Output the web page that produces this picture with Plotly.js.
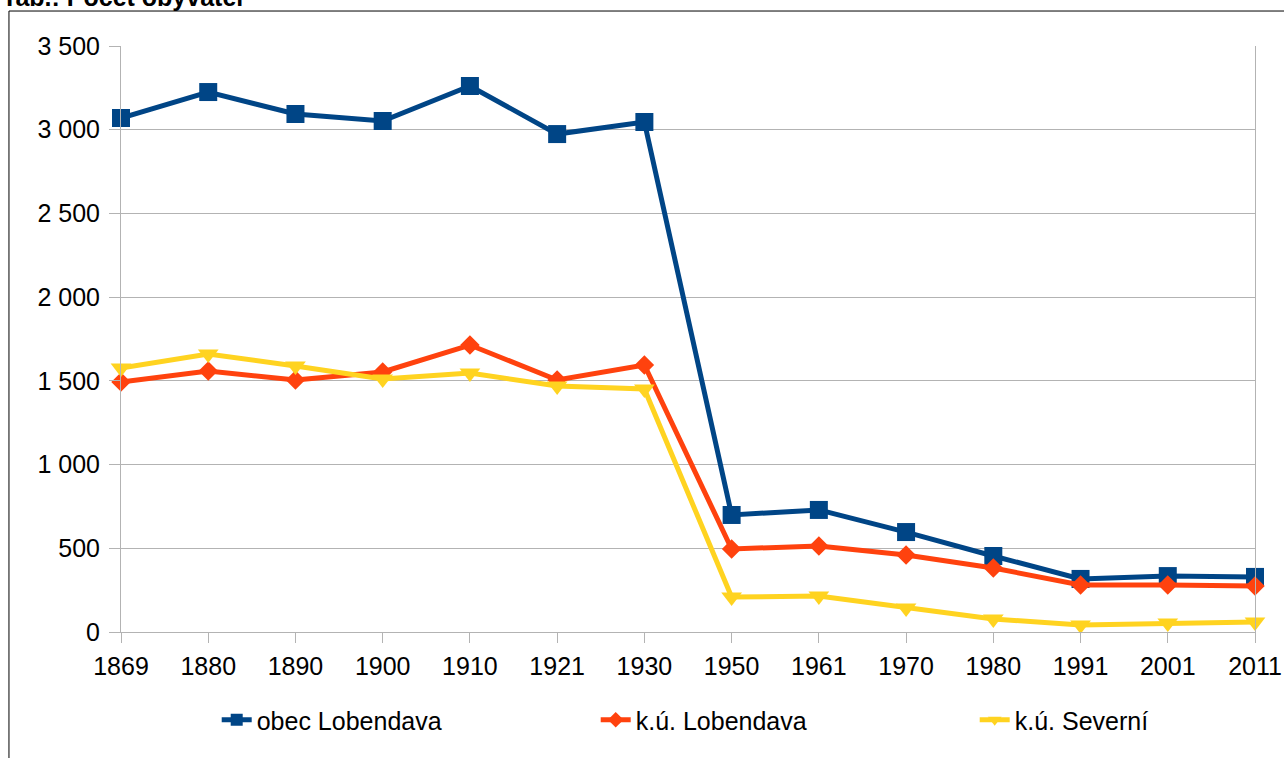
<!DOCTYPE html>
<html>
<head>
<meta charset="utf-8">
<script src="https://cdn.plot.ly/plotly-3.0.1.min.js"></script>
<style>
html,body{margin:0;padding:0;background:#fff;}
#chart{width:1284px;height:758px;}
</style>
</head>
<body>
<div id="chart"></div>
<script>
const years = ["1869","1880","1890","1900","1910","1921","1930","1950","1961","1970","1980","1991","2001","2011"];
const obecLobendava = [3070,3225,3094,3052,3261,2974,3046,699,729,597,454,317,334,329];
const kuLobendava = [1493,1559,1505,1553,1714,1505,1595,496,514,460,382,281,281,275];
const kuSeverni = [1577,1660,1589,1511,1547,1469,1451,209,215,143,78,42,54,60];
const seriesNames = ["obec Lobendava","k.ú. Lobendava","k.ú. Severní"];
const yTicks = [0,500,1000,1500,2000,2500,3000,3500];
const chartTitle = "Tab.: Počet obyvatel";

const FAM = "Liberation Sans, Arial, sans-serif";
const font = {family:FAM, size:25, color:"#000"};
const traces = [
  {x:years, y:obecLobendava, name:seriesNames[0], type:"scatter", mode:"lines+markers", cliponaxis:false,
   line:{color:"#004586", width:5}, marker:{symbol:"square", size:18, color:"#004586"}},
  {x:years, y:kuLobendava, name:seriesNames[1], type:"scatter", mode:"lines+markers", cliponaxis:false,
   line:{color:"#ff420e", width:5}, marker:{symbol:"diamond", size:15, color:"#ff420e"}},
  {x:years, y:kuSeverni, name:seriesNames[2], type:"scatter", mode:"lines+markers", cliponaxis:false,
   line:{color:"#ffd320", width:5}, marker:{symbol:"triangle-down", size:18, color:"#ffd320"}}
];

const layout = {
  width:1284, height:758,
  margin:{l:121, r:29, t:46, b:126, pad:0, autoexpand:false},
  paper_bgcolor:"#fff", plot_bgcolor:"#fff",
  font:font,
  separators:", ",
  showlegend:true,
  xaxis:{type:"category", range:[0,13], showgrid:false, zeroline:false,
         showline:true, linecolor:"#b3b3b3", linewidth:1,
         ticks:"outside", ticklen:10, tickcolor:"#b3b3b3", tickwidth:1,
         tickfont:font, ticklabelstandoff:2, fixedrange:true, automargin:false},
  yaxis:{range:[0,3500], tickvals:yTicks, tickformat:",d", showgrid:true, gridcolor:"#b3b3b3", gridwidth:1,
         zeroline:false, showline:true, mirror:true, linecolor:"#b3b3b3", linewidth:1,
         ticks:"outside", ticklen:11, tickcolor:"#b3b3b3", tickwidth:1,
         tickfont:font, ticklabelstandoff:4, fixedrange:true, automargin:false},
  legend:{orientation:"h", x:0.0844, xanchor:"left", yref:"container", y:0.0501, yanchor:"middle",
          entrywidth:334, entrywidthmode:"pixels", font:font, bgcolor:"rgba(0,0,0,0)", itemsizing:"constant"},
  annotations:[
    {text:"<b>"+chartTitle+"</b>", xref:"paper", yref:"paper", x:-0.1067, y:1.0836,
     xanchor:"left", yanchor:"middle", showarrow:false, font:{family:FAM, size:25, color:"#000"}}
  ],
  shapes:[
    {type:"path", xref:"paper", yref:"paper",
     path:"M -0.0988 -0.3 L -0.0988 1.0597 L 1.1 1.0597",
     line:{color:"#000", width:1}}
  ]
};
Plotly.newPlot("chart", traces, layout, {displayModeBar:false, staticPlot:true});
</script>
</body>
</html>
